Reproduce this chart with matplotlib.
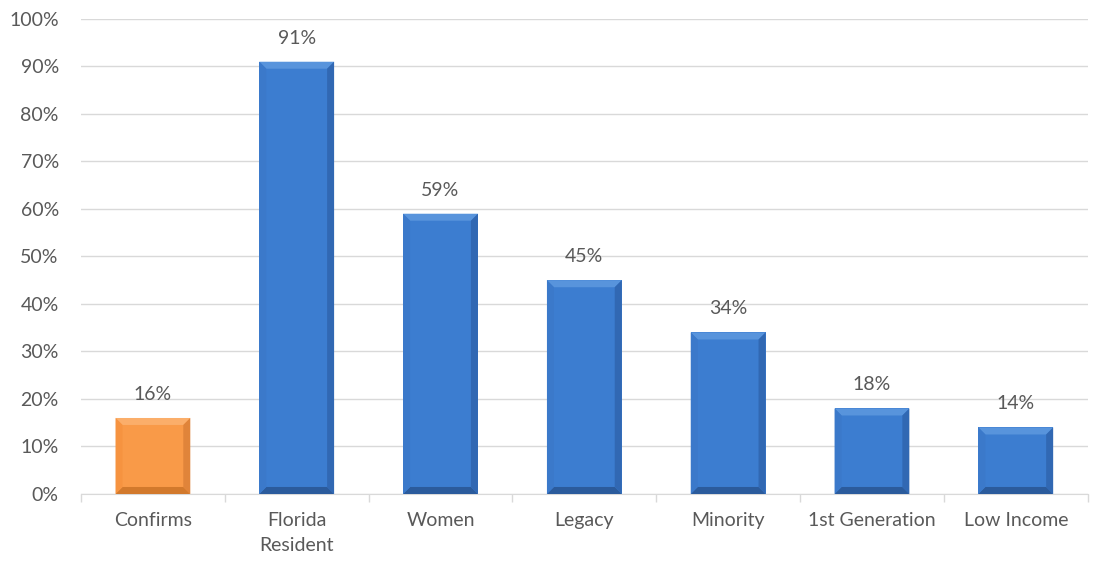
import matplotlib.pyplot as plt
import matplotlib.patches as mpatches
import numpy as np

plt.rcParams['font.family'] = ['Lato', 'DejaVu Sans']

categories = ['Confirms', 'Florida\nResident', 'Women', 'Legacy', 'Minority',
              '1st Generation', 'Low Income']
values = [16, 91, 59, 45, 34, 18, 14]
highlight = [True, False, False, False, False, False, False]

text_color = '#595959'
grid_color = '#D9D9D9'


def bevel(ax, rect, base, light, dark, px=7):
    # thin bevel edges, sized in pixels, drawn inside each bar
    x0, y0 = rect.get_x(), rect.get_y()
    x1, y1 = x0 + rect.get_width(), y0 + rect.get_height()
    inv = ax.transData.inverted()
    p0 = ax.transData.transform((x0, y0))
    dx = inv.transform((p0[0] + px, p0[1]))[0] - x0
    dy = inv.transform((p0[0], p0[1] + px))[1] - y0
    dy = min(dy, (y1 - y0) / 2)
    faces = [
        ([(x0, y1), (x1, y1), (x1 - dx, y1 - dy), (x0 + dx, y1 - dy)], light),
        ([(x0, y0), (x1, y0), (x1 - dx, y0 + dy), (x0 + dx, y0 + dy)], dark),
        ([(x0, y0), (x0, y1), (x0 + dx, y1 - dy), (x0 + dx, y0 + dy)], base[0]),
        ([(x1, y0), (x1, y1), (x1 - dx, y1 - dy), (x1 - dx, y0 + dy)], base[1]),
    ]
    for pts, c in faces:
        ax.add_patch(mpatches.Polygon(pts, closed=True, facecolor=c,
                                      edgecolor='none', zorder=3))


fig = plt.figure(figsize=(11.02, 5.65), dpi=100)
ax = fig.add_axes([0.0735, 0.1257, 0.9135, 0.8407])

x = np.arange(len(categories))
colors = ['#F99A48' if h else '#3C7DD0' for h in highlight]
bars = ax.bar(x, values, width=0.52, color=colors, zorder=2)

ax.set_xlim(-0.5, len(categories) - 0.5)
ax.set_ylim(0, 100)
fig.canvas.draw()

for rect, h in zip(bars, highlight):
    if h:
        bevel(ax, rect, ('#F69340', '#E0843A'), '#FBAE6A', '#D2792C')
    else:
        bevel(ax, rect, ('#3B79CA', '#3168B3'), '#5894DC', '#2B5B9C')

for xi, v in zip(x, values):
    ax.text(xi, v + 3.2, f'{v}%', ha='center', va='bottom', fontsize=14,
            color=text_color)

ax.set_yticks(np.arange(0, 101, 10))
ax.set_yticklabels([f'{t}%' for t in range(0, 101, 10)])
ax.yaxis.grid(True, color=grid_color, linewidth=1)
ax.set_axisbelow(True)
ax.tick_params(axis='y', length=0, pad=16, labelsize=14, labelcolor=text_color)

ax.set_xticks(x)
ax.set_xticklabels(categories, linespacing=1.55)
ax.tick_params(axis='x', length=0, pad=13, labelsize=14, labelcolor=text_color)
ax.set_xticks(np.arange(-0.5, len(categories) + 0.5, 1), minor=True)
ax.tick_params(axis='x', which='minor', length=6, color=grid_color, width=1)

for s in ['top', 'right', 'left']:
    ax.spines[s].set_visible(False)
ax.spines['bottom'].set_color(grid_color)

fig.savefig('out.png', dpi=100)
